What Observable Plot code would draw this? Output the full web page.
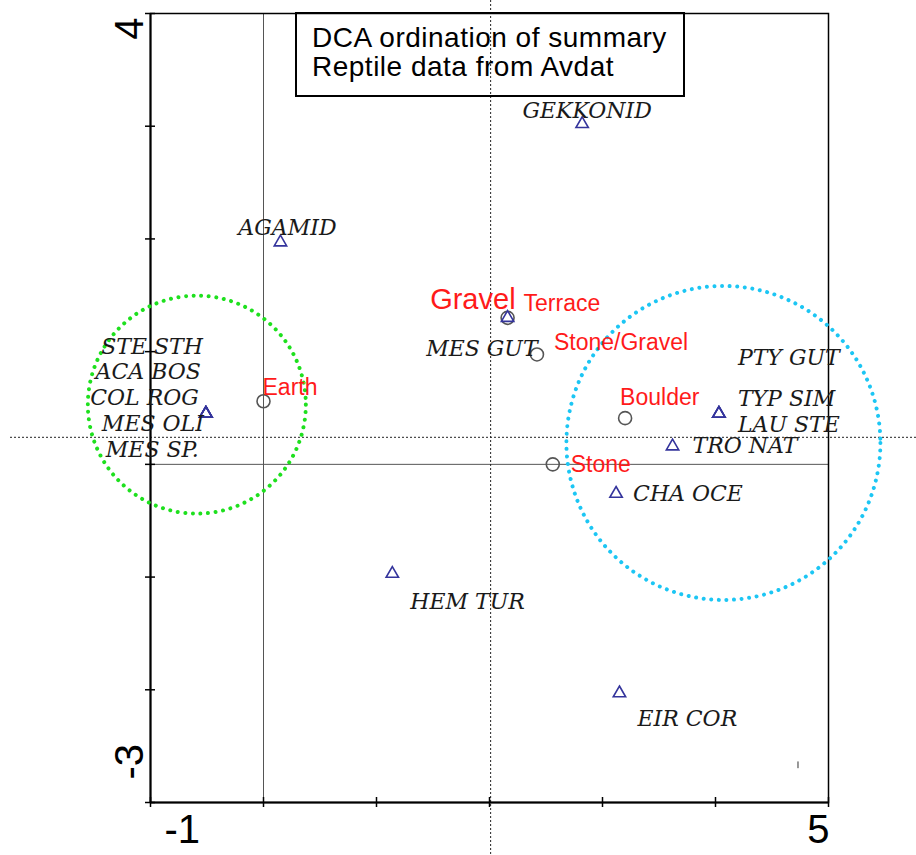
<!DOCTYPE html>
<html>
<head>
<meta charset="utf-8">
<script src="https://cdn.jsdelivr.net/npm/d3@7"></script>
<script src="https://cdn.jsdelivr.net/npm/@observablehq/plot@0.6"></script>
<style>
  body { margin: 0; background: #fff; }
  #wrap { position: relative; width: 916px; height: 855px; }
  #title {
    position: absolute; left: 295px; top: 12px;
    width: 371px; height: 72px;
    border: 2px solid #000;
    padding: 9px 0 0 15px;
    font-family: "Liberation Sans", Arial, sans-serif;
    font-size: 28px; line-height: 29px; letter-spacing: 0.5px;
    color: #000; pointer-events: none;
  }
</style>
</head>
<body>
<div id="wrap">
  <div id="chart"></div>
  <div id="title">DCA ordination of summary<br>Reptile data from Avdat</div>
</div>
<script>
// Axis ranges and ticks
const xDomain = [-1, 5];
const yDomain = [-3, 4];
const xTickValues = [-1, 0, 1, 2, 3, 4, 5];
const yTickValues = [-3, -2, -1, 0, 1, 2, 3, 4];
const xTickLabelValues = [-1, 5];
const xTickLabels = ["-1", "5"];
const yTickLabelValues = [4, -3];
const yTickLabels = ["4", "-3"];

// Species scores (DCA axis 1, axis 2)
const speciesNames = ["GEKKONID", "AGAMID", "STE STH", "ACA BOS", "COL ROG", "MES OLI", "MES SP.",
  "MES GUT", "PTY GUT", "TYP SIM", "LAU STE", "TRO NAT", "CHA OCE", "HEM TUR", "EIR COR"];
const speciesAxis1 = [2.82, 0.15, -0.51, -0.51, -0.51, -0.51, -0.51,
  2.16, 4.03, 4.03, 4.03, 3.62, 3.12, 1.14, 3.15];
const speciesAxis2 = [3.02, 1.97, 0.45, 0.45, 0.45, 0.45, 0.45,
  1.30, 0.45, 0.45, 0.45, 0.16, -0.26, -0.97, -2.03];

// Habitat (sample) scores
const sampleNames = ["Earth", "Gravel Terrace", "Stone/Gravel", "Boulder", "Stone"];
const sampleAxis1 = [0.00, 2.16, 2.42, 3.20, 2.56];
const sampleAxis2 = [0.56, 1.30, 0.975, 0.41, 0.00];

// Centroid cross-hair and the two habitat groupings
const centroidAxis1 = [2.01];
const centroidAxis2 = [0.24];
const groupNames = ["Earth group", "Boulder group"];
const groupAxis1 = [-0.59, 4.07];
const groupAxis2 = [0.53, 0.19];

// Small mark near the lower-right corner
const cornerTickAxis1 = [4.73];
const cornerTickAxis2 = [[-2.64, -2.70]];

// Layout / style
const W = 916, H = 855, mL = 150, mR = 88, mT = 13, mB = 53;
const groupStyle = {
  "Earth group": {r: 109, stroke: "#1ee01e"},
  "Boulder group": {r: 157, stroke: "#1cc6f4"}
};
const speciesLabelLayout = {
  "GEKKONID": {dx: 5, dy: -13, anchor: "middle"},
  "AGAMID": {dx: 7, dy: -14, anchor: "middle"},
  "STE STH": {dx: -3, dy: -67, anchor: "end"},
  "ACA BOS": {dx: -5, dy: -42, anchor: "end"},
  "COL ROG": {dx: -7, dy: -16, anchor: "end"},
  "MES OLI": {dx: -2, dy: 10, anchor: "end"},
  "MES SP.": {dx: -7, dy: 36, anchor: "end"},
  "MES GUT": {dx: 30, dy: 31, anchor: "end"},
  "PTY GUT": {dx: 19, dy: -56, anchor: "start"},
  "TYP SIM": {dx: 19, dy: -15, anchor: "start"},
  "LAU STE": {dx: 19, dy: 11, anchor: "start"},
  "TRO NAT": {dx: 20, dy: 0, anchor: "start"},
  "CHA OCE": {dx: 17, dy: 0, anchor: "start"},
  "HEM TUR": {dx: 18, dy: 28, anchor: "start"},
  "EIR COR": {dx: 18, dy: 26, anchor: "start"}
};
const sampleLabelLayout = {
  "Earth": [{part: 0, dx: -1, dy: -14, anchor: "start", size: 23}],
  "Gravel Terrace": [{part: 0, dx: 8, dy: -18, anchor: "end", size: 29},
                     {part: 1, dx: 16, dy: -14, anchor: "start", size: 23}],
  "Stone/Gravel": [{part: 0, dx: 17, dy: -12, anchor: "start", size: 23}],
  "Boulder": [{part: 0, dx: -5, dy: -21, anchor: "start", size: 23}],
  "Stone": [{part: 0, dx: 18, dy: 0, anchor: "start", size: 23}]
};

const species = speciesNames.map((name, i) => ({name, x: speciesAxis1[i], y: speciesAxis2[i]}));
const samples = sampleNames.map((name, i) => ({name, x: sampleAxis1[i], y: sampleAxis2[i]}));
const groups = groupNames.map((name, i) => ({name, x: groupAxis1[i], y: groupAxis2[i]}));
const centroid = {x: centroidAxis1[0], y: centroidAxis2[0]};

const serif = "'DejaVu Serif', serif";
const sans = "'Liberation Sans', Arial, sans-serif";

const marks = [
  // axes of the ordination through zero
  Plot.ruleX([0], {stroke: "#555", strokeWidth: 1}),
  Plot.ruleY([0], {stroke: "#555", strokeWidth: 1}),
  // dotted cross-hair through the centroid, running across the whole figure
  Plot.ruleX([centroid.x], {stroke: "#222", strokeWidth: 1, strokeDasharray: "2,2",
    insetTop: -mT, insetBottom: -mB}),
  Plot.ruleY([centroid.y], {stroke: "#222", strokeWidth: 1, strokeDasharray: "2,2",
    insetLeft: -(mL - 10), insetRight: -mR}),
  // frame and heavier left / bottom axis lines
  Plot.frame({stroke: "#000", strokeWidth: 1.5}),
  Plot.ruleX([xDomain[0]], {stroke: "#000", strokeWidth: 2}),
  Plot.ruleY([yDomain[0]], {stroke: "#000", strokeWidth: 2}),
  // tick marks crossing the axis lines
  Plot.ruleX(xTickValues, {y1: yDomain[0], y2: yDomain[0], insetTop: -5, insetBottom: -5,
    stroke: "#000", strokeWidth: 1.5}),
  Plot.ruleY(yTickValues, {x1: xDomain[0], x2: xDomain[0], insetLeft: -5, insetRight: -5,
    stroke: "#000", strokeWidth: 1.5}),
  // end tick labels
  Plot.text([0], {x: xTickLabelValues[0], y: yDomain[0], text: [xTickLabels[0]],
    textAnchor: "start", dx: 14, dy: 28, fontSize: 40, fontFamily: sans, fill: "#000"}),
  Plot.text([0], {x: xTickLabelValues[1], y: yDomain[0], text: [xTickLabels[1]],
    textAnchor: "end", dx: 1, dy: 28, fontSize: 40, fontFamily: sans, fill: "#000"}),
  Plot.text([0], {x: xDomain[0], y: yTickLabelValues[0], text: [yTickLabels[0]],
    textAnchor: "end", rotate: -90, dx: -20, dy: 4, fontSize: 40, fontFamily: sans, fill: "#000"}),
  Plot.text([0], {x: xDomain[0], y: yTickLabelValues[1], text: [yTickLabels[1]],
    textAnchor: "start", rotate: -90, dx: -20, dy: -23, fontSize: 40, fontFamily: sans, fill: "#000"}),
  // small corner mark
  Plot.ruleX([0], {x: cornerTickAxis1, y1: [cornerTickAxis2[0][0]], y2: [cornerTickAxis2[0][1]],
    stroke: "#333", strokeWidth: 1}),
  // habitat groupings
  ...groups.map(g => Plot.dot([g], {x: "x", y: "y", r: groupStyle[g.name].r,
    stroke: groupStyle[g.name].stroke, strokeWidth: 4, strokeDasharray: "0.01,7.6",
    strokeLinecap: "round", fill: "none"})),
  // habitat samples
  Plot.dot(samples, {x: "x", y: "y", r: 6.5, stroke: "#555", strokeWidth: 1.6, fill: "none"}),
  // species
  Plot.dot(species, {x: "x", y: "y", symbol: "triangle", r: 4.6, stroke: "#34349c",
    strokeWidth: 1.6, fill: "none"}),
  // species names
  ...species.map(d => {
    const L = speciesLabelLayout[d.name];
    return Plot.text([d], {x: "x", y: "y", text: "name", dx: L.dx, dy: L.dy,
      textAnchor: L.anchor, fontFamily: serif, fontStyle: "italic", fontSize: 22,
      fill: "#1a1a1a"});
  }),
  // habitat names
  ...samples.flatMap(d => sampleLabelLayout[d.name].map(L =>
    Plot.text([d], {x: "x", y: "y", text: s => s.name.split(" ")[L.part],
      dx: L.dx, dy: L.dy, textAnchor: L.anchor, fontFamily: sans, fontSize: L.size,
      fill: "#ff1a1a"})))
];

const chart = Plot.plot({
  width: W, height: H,
  marginLeft: mL, marginRight: mR, marginTop: mT, marginBottom: mB,
  x: {domain: xDomain, axis: null},
  y: {domain: yDomain, axis: null},
  style: {background: "#fff", overflow: "visible"},
  marks
});
document.getElementById("chart").appendChild(chart);
</script>
</body>
</html>
